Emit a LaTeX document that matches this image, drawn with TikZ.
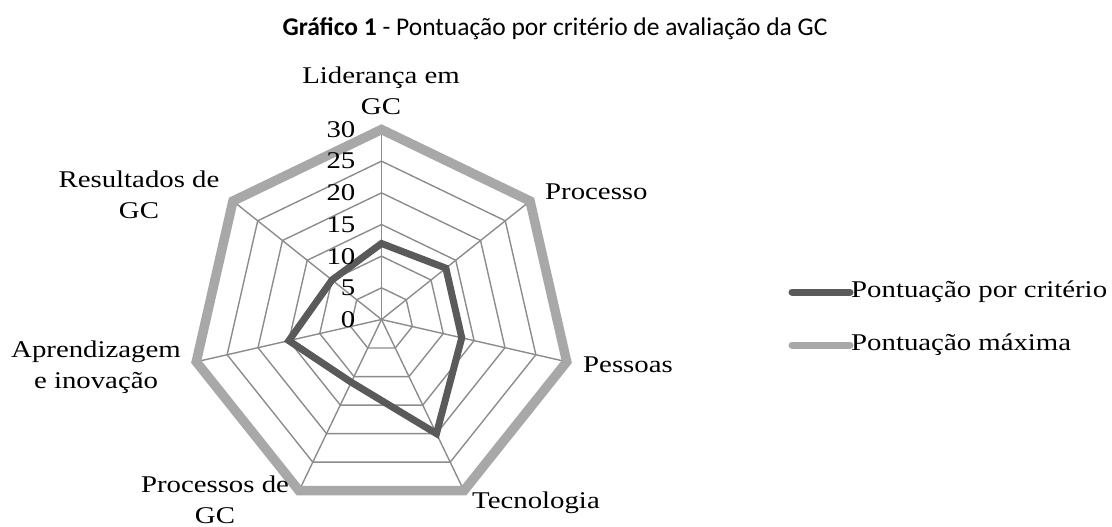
\documentclass[tikz,border=0pt]{standalone}
\usepackage{fontspec}
\setmainfont{Liberation Serif}[FakeStretch=1.2]
\newfontfamily\titlefont{Carlito}
\usetikzlibrary{positioning}
\definecolor{gridgray}{RGB}{140,140,140}
\definecolor{maxgray}{RGB}{168,168,168}
\definecolor{scoredark}{RGB}{90,90,90}
\tikzset{
  lbl/.style={font=\fontsize{24}{31}\selectfont, align=center, inner sep=0pt},
  gridline/.style={gridgray, line width=1.4pt},
  maxline/.style={maxgray, line width=9.5pt},
  scoreline/.style={scoredark, line width=7pt}
}
\begin{document}
\begin{tikzpicture}[x=1pt,y=1pt]
\useasboundingbox (0,0) rectangle (1112,-527);
\node[font=\titlefont\fontsize{25.5}{30}\selectfont] (title) at (555,-29)
  {\textbf{Gráfico 1} - Pontuação por critério de avaliação da GC};

\begin{scope}[shift={(381.5,-319.5)}]
  \coordinate (o) at (0,0);
  \foreach \k in {0,...,6}
    \coordinate (v\k) at ({90-\k*360/7}:190);
  \foreach \r in {31.67,63.33,95,126.67,158.33}
    \draw[gridline] (90:\r) \foreach \k in {1,...,6} {-- ({90-\k*360/7}:\r)} -- cycle;
  \foreach \k in {0,...,6}
    \draw[gridline] (o) -- (v\k);
  \draw[maxline] (v0) -- (v1) -- (v2) -- (v3) -- (v4) -- (v5) -- (v6) -- cycle;

  \foreach \v [count=\k from 0] in {12,13,13,20,11,15,10}
    \coordinate (d\k) at ({90-\k*360/7}:{\v*190/30});
  \draw[scoreline] (d0) -- (d1) -- (d2) -- (d3) -- (d4) -- (d5) -- (d6) -- cycle;

  \foreach \n in {0,5,...,30}
    \node[lbl, anchor=east] (t\n) at (-26,{\n*190/30}) {\n};
\end{scope}

\node[lbl] (lider) at (381,-90.5) {Liderança em\\GC};
\node[lbl, anchor=west] (proc) at (545,-192) {Processo};
\node[lbl, anchor=west] (pess) at (583,-365) {Pessoas};
\node[lbl, anchor=west] (tec) at (472,-503) {Tecnologia};
\node[lbl] (procgc) at (215,-500) {Processos de\\GC};
\node[lbl] (aprend) at (96,-367) {Aprendizagem\\e inovação};
\node[lbl] (result) at (139,-195) {Resultados de\\GC};

\coordinate (l1) at (792,-292);
\coordinate (l1e) at (850,-292);
\coordinate (l2) at (792,-345);
\coordinate (l2e) at (850,-345);
\draw[scoreline, line cap=round] (l1) -- (l1e);
\draw[maxline, line width=7pt, line cap=round] (l2) -- (l2e);
\node[lbl, right=1pt of l1e] (leg1) {Pontuação por critério};
\node[lbl, right=1pt of l2e] (leg2) {Pontuação máxima};
\end{tikzpicture}
\end{document}
